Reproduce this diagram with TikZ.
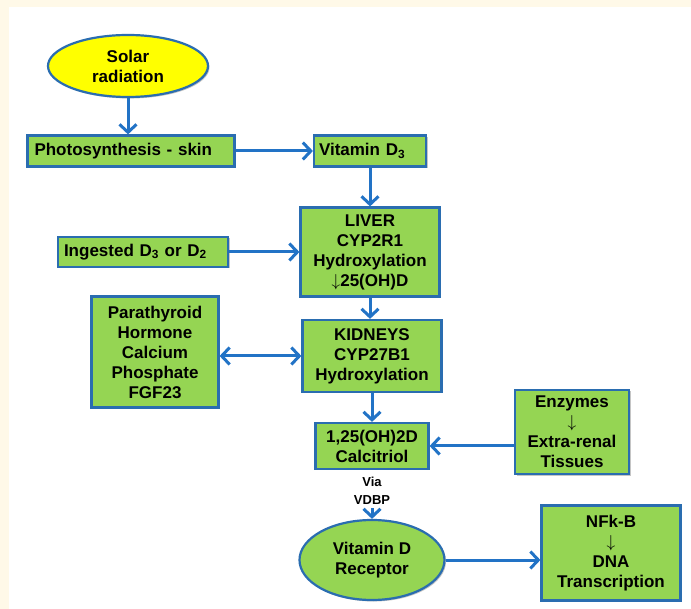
\documentclass[tikz,border=0pt]{standalone}
\usepackage{fontspec}
\setmainfont{Liberation Sans}
\usepackage{xcolor}
\usepackage{tikz}
\usetikzlibrary{arrows.meta, shapes.geometric, shadows}
\definecolor{cream}{HTML}{FFF9E8}
\definecolor{leaf}{HTML}{95D553}
\definecolor{edgeblue}{HTML}{2A6DB0}
\definecolor{flowblue}{HTML}{2273C6}
\definecolor{sun}{HTML}{FFFF00}

\begin{document}
\begin{tikzpicture}[
  x=1pt, y=-1pt,
  box/.style={draw=edgeblue, line width=2.2pt, fill=leaf, align=center, inner sep=1pt,
    font=\fontsize{17}{20}\selectfont\bfseries,
    drop shadow={shadow xshift=1.5pt, shadow yshift=-1.5pt, opacity=0.45}},
  oval/.style={box, ellipse, inner sep=0pt},
  flow/.style={draw=flowblue, line width=3pt, -{Straight Barb[length=8pt,width=17pt]}},
  both/.style={flow, {Straight Barb[length=8pt,width=17pt]}-{Straight Barb[length=8pt,width=17pt]}}
]
\fill[cream] (0,0) rectangle (691,609);
\fill[white] (9,7) rectangle (691,609);
\useasboundingbox (0,0) rectangle (691,609);

\node[oval, fill=sun, minimum width=160, minimum height=62] (solar) at (128,66) {Solar\\radiation};
\node[box, minimum width=207, minimum height=31, text width=193, align=left] (photo) at (131,151) {Photosynthesis - skin};
\node[box, minimum width=112, minimum height=31, text width=102, align=left] (vitd) at (370,151) {Vitamin D\textsubscript{3}};
\node[box, minimum width=139, minimum height=89] (liver) at (370,252) {LIVER\\CYP2R1\\Hydroxylation\\$\downarrow$25(OH)D};
\node[box, minimum width=170, minimum height=30, text width=158, align=left] (ingest) at (143,252) {Ingested D\textsubscript{3} or D\textsubscript{2}};
\node[box, minimum width=127, minimum height=111] (pth) at (155,352) {Parathyroid\\Hormone\\Calcium\\Phosphate\\FGF23};
\node[box, minimum width=139, minimum height=72] (kidney) at (372,356) {KIDNEYS\\CYP27B1\\Hydroxylation};
\node[box, minimum width=113, minimum height=46] (calc) at (372,446) {1,25(OH)2D\\Calcitriol};
\node[box, minimum width=114, minimum height=84] (enz) at (572,432) {Enzymes\\$\downarrow$\\Extra-renal\\Tissues};
\node[align=center, font=\fontsize{13}{18}\selectfont\bfseries] (via) at (372,491) {Via\\VDBP};
\node[oval, minimum width=145, minimum height=80] (vdr) at (372,560) {Vitamin D\\Receptor};
\node[box, minimum width=139, minimum height=95] (nfkb) at (611,553) {NFk-B\\$\downarrow$\\DNA\\Transcription};

\draw[flow] (solar) -- (solar |- photo.north);
\draw[flow] (photo) -- (vitd);
\draw[flow] (vitd) -- (liver);
\draw[flow] (ingest) -- (ingest -| liver.west);
\draw[flow] (liver) -- (liver |- kidney.north);
\draw[both] (pth.east |- kidney) -- (kidney);
\draw[flow] (kidney) -- (calc);
\draw[flow] (enz.west |- calc) -- (calc);
\draw[flow] (via) -- (vdr);
\draw[flow] (vdr) -- (vdr -| nfkb.west);
\end{tikzpicture}
\end{document}
